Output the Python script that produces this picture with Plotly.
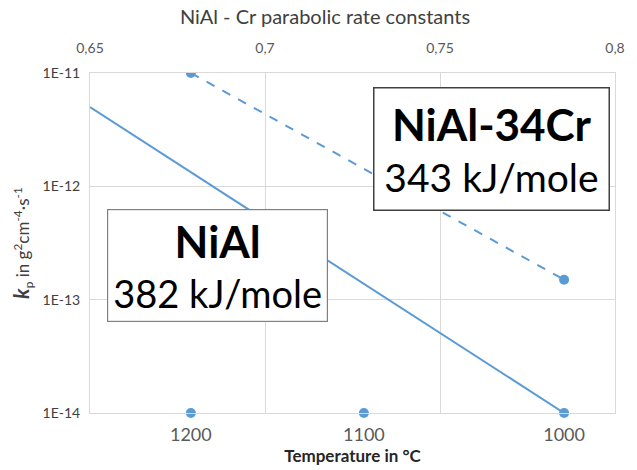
import plotly.graph_objects as go

# Data
temps_c = [1200, 1100, 1000]                      # bottom axis categories (°C)
inv_t = [1000.0 / (t + 273.15) for t in temps_c]  # 1000/T in K^-1
kp_nial34cr = [1e-11, 1.5e-13]                    # at 1200 and 1000 °C
nial_x = [0.65, inv_t[2]]                         # NiAl fit line ends (1000/T)
nial_kp = [5.0e-12, 1e-14]
base_kp = [1e-14, 1e-14, 1e-14]
top_ticks = [0.65, 0.7, 0.75, 0.8]
y_ticks = [1e-11, 1e-12, 1e-13, 1e-14]
y_ticktext = ["1E-11", "1E-12", "1E-13", "1E-14"]

blue = "#5B9BD5"
grid = "#D9D9D9"
tick_col = "#595959"
FONT = "Lato"

fig = go.Figure()
fig.add_trace(go.Scatter(x=nial_x, y=nial_kp, mode="lines",
                         line=dict(color=blue, width=2), xaxis="x2", showlegend=False))
fig.add_trace(go.Scatter(x=[inv_t[0], inv_t[2]], y=kp_nial34cr, mode="lines+markers",
                         line=dict(color=blue, width=2, dash="dash"),
                         marker=dict(color=blue, size=10), xaxis="x2", showlegend=False))
fig.add_trace(go.Scatter(x=inv_t, y=base_kp, mode="markers",
                         marker=dict(color=blue, size=10), xaxis="x", showlegend=False,
                         cliponaxis=False))

fig.update_layout(
    width=637, height=470,
    margin=dict(l=90, r=19, t=73, b=56),
    paper_bgcolor="white", plot_bgcolor="white",
    separators=",.",
    font=dict(family=FONT, color=tick_col),
    title=dict(text="NiAl - Cr parabolic rate constants", x=325/637, xanchor="center",
               y=1 - 17/470, yanchor="middle",
               font=dict(size=20, color="#404040", family=FONT)),
    xaxis=dict(range=[0.65, 0.8], tickvals=inv_t, ticktext=[str(t) for t in temps_c],
               showgrid=False, zeroline=False, showline=True, linecolor=grid, mirror=True,
               ticks="", tickfont=dict(size=18, color=tick_col), ticklabelstandoff=5,
               title=dict(text="<b>Temperature in °C</b>", font=dict(size=17, color="#262626"),
                          standoff=2)),
    xaxis2=dict(range=[0.65, 0.8], overlaying="x", side="top", tickvals=top_ticks,
                ticktext=["0,65", "0,7", "0,75", "0,8"],
                showgrid=True, gridcolor=grid, gridwidth=1, zeroline=False, ticks="",
                ticklabelstandoff=16,
                tickfont=dict(size=14, color=tick_col)),
    yaxis=dict(type="log", range=[-14, -11], tickvals=y_ticks, ticktext=y_ticktext,
               showgrid=True, gridcolor=grid, zeroline=False, showline=True, linecolor=grid,
               mirror=True, ticks="", tickfont=dict(size=14, color="#404040"),
               ticklabelstandoff=6,
               title=dict(text="<b><i><span style='font-size:21px'>k</span></i></b><sub>p</sub> in g<sup>2</sup>cm<sup>-4</sup>·s<sup>-1</sup>",
                          font=dict(size=17, color="#404040"), standoff=8)),
)

fig.add_annotation(xref="paper", yref="paper", x=(494 - 90) / 528, y=(414 - 149.5) / 341,
                   xanchor="center", yanchor="middle",
                   text="<b><span style='font-size:44px'>NiAl-34Cr</span></b><br>343 kJ/mole",
                   showarrow=False,
                   font=dict(size=39, color="black", family=FONT),
                   bordercolor="#404040", borderwidth=1.5, bgcolor="white",
                   width=232, height=119, align="center")
fig.add_annotation(xref="paper", yref="paper", x=(218.5 - 90) / 528, y=(414 - 266.5) / 341,
                   xanchor="center", yanchor="middle",
                   text="<b><span style='font-size:44px'>NiAl</span></b><br>382 kJ/mole",
                   showarrow=False,
                   font=dict(size=38, color="black", family=FONT),
                   bordercolor="#808080", borderwidth=1.2, bgcolor="white",
                   width=217, height=109, align="center")

fig.write_html("out.html")
